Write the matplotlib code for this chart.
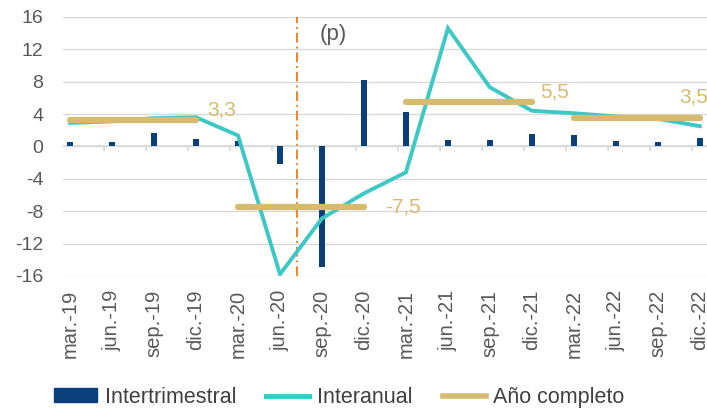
import numpy as np
import matplotlib.pyplot as plt
from matplotlib.patches import Patch
from matplotlib.lines import Line2D

plt.rcParams['font.family'] = ['Liberation Sans', 'DejaVu Sans']

quarters = ['mar.-19', 'jun.-19', 'sep.-19', 'dic.-19', 'mar.-20', 'jun.-20', 'sep.-20', 'dic.-20',
            'mar.-21', 'jun.-21', 'sep.-21', 'dic.-21', 'mar.-22', 'jun.-22', 'sep.-22', 'dic.-22']
intertrimestral = [0.6, 0.5, 1.6, 0.9, 0.7, -2.2, -14.9, 8.2, 4.3, 0.8, 0.8, 1.5, 1.4, 0.7, 0.5, 1.1]
interanual = [2.9, 3.1, 3.5, 3.6, 1.35, -15.8, -8.9, -5.8, -3.2, 14.6, 7.3, 4.4, 4.1, 3.7, 3.4, 2.5]
years = [2019, 2020, 2021, 2022]
anual = [3.3, -7.5, 5.5, 3.5]
anual_labels = ['3,3', '-7,5', '5,5', '3,5']
yticks = [-16, -12, -8, -4, 0, 4, 8, 12, 16]

navy = '#0B3F7C'
teal = '#3CC9C6'
gold = '#D6BA6E'
grey = '#595959'

fig = plt.figure(figsize=(7.07, 4.13), dpi=100)
ax = fig.add_axes([0.089, 0.332, 0.911, 0.627])

x = np.arange(len(quarters))
ax.bar(x, intertrimestral, width=0.16, color=navy, zorder=3)
ax.plot(x, interanual, color=teal, lw=2.8, zorder=4, solid_joinstyle='miter')

for i, v in enumerate(anual):
    ax.plot([4 * i, 4 * i + 3], [v, v], color=gold, lw=4.5, solid_capstyle='round', zorder=5)

# value labels of the yearly averages
ax.text(3.26, 4.5, anual_labels[0], color=gold, fontsize=15, va='center', ha='left')
ax.text(7.5, -7.5, anual_labels[1], color=gold, fontsize=15, va='center', ha='left')
ax.text(11.2, 6.7, anual_labels[2], color=gold, fontsize=15, va='center', ha='left')
ax.text(14.5, 6.1, anual_labels[3], color=gold, fontsize=15, va='center', ha='left')

# forecast marker
ax.axvline(5.4, color='#F58220', lw=1.4, ls=(0, (5, 2, 1, 2)), zorder=2)
ax.text(5.95, 13.8, '(p)', color=grey, fontsize=16, va='center', ha='left')

ax.set_ylim(-16, 16)
ax.set_xlim(-0.17, 15.17)
ax.set_yticks(yticks)
ax.set_yticklabels([str(t) for t in yticks], color=grey, fontsize=14)
ax.grid(axis='y', color='#D9D9D9', lw=1, zorder=0)
ax.set_xticks(x)
ax.set_xticklabels(quarters, rotation=90, color=grey, fontsize=14.5)
ax.tick_params(axis='both', length=0)
ax.tick_params(axis='x', pad=10)
ax.tick_params(axis='y', pad=14)
for s in ax.spines.values():
    s.set_visible(False)

# zero axis with small ticks
ax.axhline(0, color='#D9D9D9', lw=1.2, zorder=1)
ax.vlines(x - 0.19, -0.6, 0, color='#D9D9D9', lw=1.2, zorder=1)

handles = [Patch(color=navy), Line2D([], [], color=teal, lw=3.5), Line2D([], [], color=gold, lw=4)]
fig.legend(handles, ['Intertrimestral', 'Interanual', 'Año completo'], loc='center',
           bbox_to_anchor=(0.48, 0.038), ncol=3, frameon=False, fontsize=15.5,
           handlelength=2.0, handleheight=0.6, handletextpad=0.35, columnspacing=1.4,
           labelcolor='#404040')

fig.savefig('out.png', dpi=100)
